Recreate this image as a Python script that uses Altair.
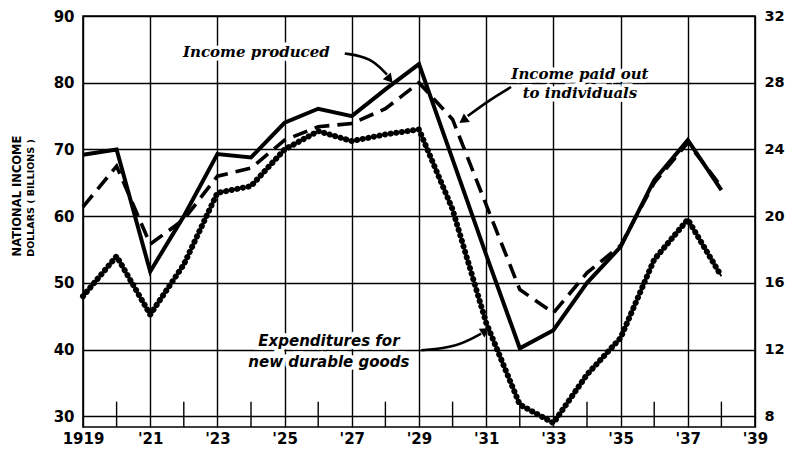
import altair as alt
import pandas as pd

# ---- data ----
years = list(range(1919, 1939))
income_produced = [69.2, 70.0, 51.7, 60.0, 69.3, 68.8, 74.0, 76.1, 75.0, 79.0,
                   82.8, 68.5, 54.2, 40.2, 42.9, 50.0, 55.4, 65.4, 71.4, 63.9]
income_paid_out = [61.4, 67.5, 55.8, 59.5, 66.0, 67.2, 71.4, 73.4, 73.9, 76.1,
                   80.0, 74.5, 61.7, 49.0, 45.5, 51.5, 55.6, 65.0, 71.0, 64.4]
durable_goods = [15.2, 17.6, 14.1, 17.1, 21.4, 21.8, 24.0, 25.1, 24.5, 24.9,
                 25.2, 20.4, 13.6, 8.7, 7.6, 10.5, 12.7, 17.4, 19.8, 16.4]

x_label_years = list(range(1919, 1940, 2))
minor_tick_years = list(range(1920, 1939, 2))
left_ticks = [30, 40, 50, 60, 70, 80, 90]
right_ticks = [8, 12, 16, 20, 24, 28, 32]

LEFT_DOMAIN = [28.4, 90]
RIGHT_DOMAIN = [7.36, 32]
X_DOMAIN = [1919, 1939]

# annotation labels (year, left-axis value)
serif_labels = pd.DataFrame({
    "text": ["Income produced", "Income paid out", "to individuals"],
    "x": [1924.16, 1933.79, 1933.79],
    "y": [84.6, 81.3, 78.5],
})
sans_labels = pd.DataFrame({
    "text": ["Expenditures for", "new durable goods"],
    "x": [1926.32, 1926.32],
    "y": [41.3, 38.2],
})

# arrows (year, left-axis value), drawn as smooth curves
arrow_paths = pd.DataFrame({
    "arrow": ["a"] * 3 + ["b"] * 3 + ["c"] * 3,
    "order": [0, 1, 2] * 3,
    "x": [1926.79, 1927.56, 1928.05, 1931.74, 1931.06, 1930.45,
          1929.07, 1930.11, 1930.85],
    "y": [84.38, 83.79, 81.2, 79.36, 77.29, 75.0,
          39.90, 40.35, 42.4],
})
arrow_heads = pd.DataFrame({
    "x": [1928.10, 1930.35, 1930.94],
    "y": [80.69, 74.48, 42.71],
    "angle": [140, 235, 58],
})

df = pd.DataFrame({
    "year": years,
    "produced": income_produced,
    "paid": income_paid_out,
    "durable": durable_goods,
})

xscale = alt.Scale(domain=X_DOMAIN, nice=False, zero=False)
lscale = alt.Scale(domain=LEFT_DOMAIN, nice=False, zero=False)
rscale = alt.Scale(domain=RIGHT_DOMAIN, nice=False, zero=False)

label_font = "DejaVu Sans"

x_axis = alt.Axis(
    values=x_label_years, grid=True, gridColor="black", gridWidth=1.4,
    labelExpr="datum.value == 1919 ? '1919' : \"'\" + substring(toString(datum.value), 2, 4)",
    labelFont=label_font, labelFontSize=15, labelFontWeight="bold", labelColor="black",
    labelPadding=4, ticks=False, domain=False, title=None, labelFlush=False,
)


def X(field):
    return alt.X(f"{field}:Q", scale=xscale, axis=x_axis, title=None)


base = alt.Chart(df)

# left axis + horizontal grid (invisible helper line)
left_axis_layer = base.mark_line(opacity=0).encode(
    x=X("year"),
    y=alt.Y("produced:Q", scale=lscale, axis=alt.Axis(
        values=left_ticks, grid=True, gridColor="black", gridWidth=1.4,
        labelFont=label_font, labelFontSize=15, labelFontWeight="bold", labelColor="black",
        labelPadding=9, ticks=False, domain=False, title=None)),
)

minor_ticks = alt.Chart(pd.DataFrame({"year": minor_tick_years, "y0": 28.4, "y1": 32.2})).mark_rule(
    color="black", strokeWidth=1.4
).encode(
    x=X("year"),
    y=alt.Y("y0:Q", scale=lscale, axis=None),
    y2="y1:Q",
)

produced_line = base.mark_line(color="black", strokeWidth=4, strokeJoin="miter").encode(
    x=X("year"),
    y=alt.Y("produced:Q", scale=lscale, axis=None),
)

paid_line = base.mark_line(color="black", strokeWidth=3.6, strokeDash=[15, 8]).encode(
    x=X("year"),
    y=alt.Y("paid:Q", scale=lscale, axis=None),
)

durable_thin = base.mark_line(color="black", strokeWidth=1.8).encode(
    x=X("year"),
    y=alt.Y("durable:Q", scale=rscale, axis=None),
)

durable_dots = base.mark_line(color="black", strokeWidth=6, strokeDash=[0.1, 5.6],
                              strokeCap="round").encode(
    x=X("year"),
    y=alt.Y("durable:Q", scale=rscale, axis=alt.Axis(
        orient="right", values=right_ticks, grid=False,
        labelFont=label_font, labelFontSize=14.5, labelFontWeight="bold", labelColor="black",
        labelPadding=9, ticks=False, domain=False, title=None)),
)


def text_layers(data, font):
    enc = dict(
        x=X("x"),
        y=alt.Y("y:Q", scale=lscale, axis=None),
        text="text:N",
    )
    halo = alt.Chart(data).mark_text(
        font=font, fontSize=15, fontStyle="italic", fontWeight="bold", stroke="white",
        strokeWidth=7, color="white", align="center", baseline="middle"
    ).encode(**enc)
    txt = alt.Chart(data).mark_text(
        font=font, fontSize=15, fontStyle="italic", fontWeight="bold", color="black",
        align="center", baseline="middle"
    ).encode(**enc)
    return [halo, txt]


arrows = alt.Chart(arrow_paths).mark_line(color="black", strokeWidth=2.6, interpolate="basis").encode(
    x=X("x"),
    y=alt.Y("y:Q", scale=lscale, axis=None),
    detail="arrow:N",
    order="order:Q",
)

heads = alt.Chart(arrow_heads).mark_point(shape="triangle", filled=True, color="black",
                                          size=110, opacity=1).encode(
    x=X("x"),
    y=alt.Y("y:Q", scale=lscale, axis=None),
    angle=alt.Angle("angle:Q", scale=None),
)

ytitle1 = alt.Chart(pd.DataFrame({"t": ["NATIONAL INCOME"]})).mark_text(
    angle=270, fontWeight="bold", font=label_font, fontSize=11.5, color="black",
    align="center", baseline="middle").encode(
    x=alt.value(-65), y=alt.value(180), text="t:N")
ytitle2 = alt.Chart(pd.DataFrame({"t": ["DOLLARS ( BILLIONS )"]})).mark_text(
    angle=270, fontWeight="bold", font=label_font, fontSize=9.5, color="black",
    align="center", baseline="middle").encode(
    x=alt.value(-52), y=alt.value(182), text="t:N")

layers = [left_axis_layer, minor_ticks, durable_thin, durable_dots, paid_line, produced_line]
layers += text_layers(serif_labels, "DejaVu Serif")
layers += text_layers(sans_labels, "DejaVu Sans")
layers += [arrows, heads, ytitle1, ytitle2]

chart = alt.layer(*layers).resolve_scale(y="independent").properties(
    width=672, height=411,
    background="white",
    autosize=alt.AutoSizeParams(type="none"),
    padding={"left": 75, "top": 8, "right": 31, "bottom": 21},
).configure_view(stroke="black", strokeWidth=1.6)

chart.save("out.html", embed_options={"renderer": "svg", "actions": False})
